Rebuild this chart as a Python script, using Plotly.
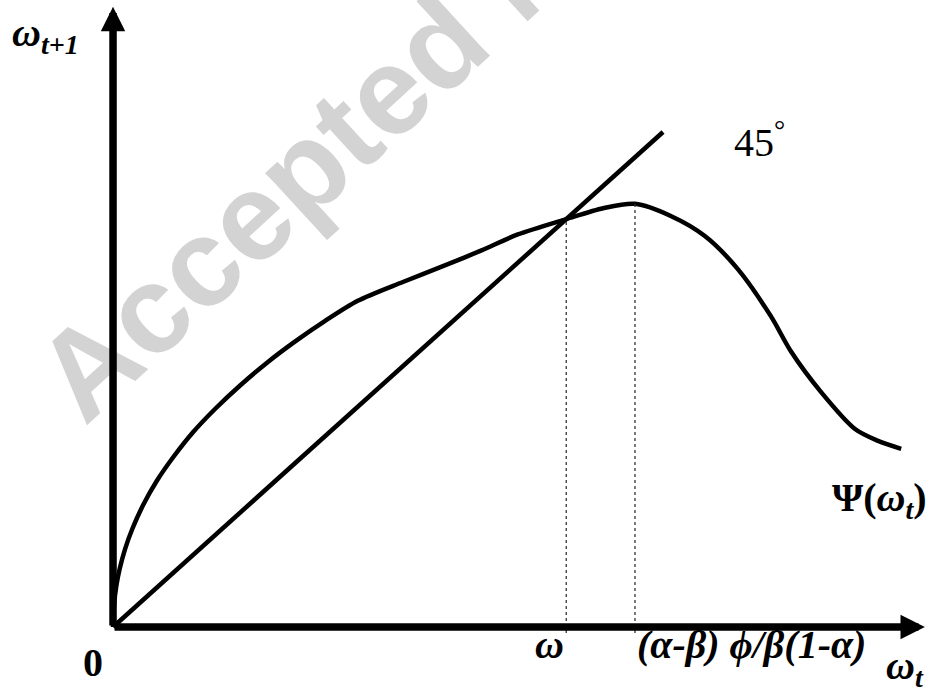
import plotly.graph_objects as go

# Psi(omega_t): next-period value against current value
psi_w = [0, 0.2, 0.6, 1.2, 2.2, 3.5, 5.5, 8, 11, 14.5, 18.5, 23, 28, 33, 38.5, 44.5,
         52.7, 60.9, 67.0, 73.6, 82.4, 89.1, 94.9, 101.5, 107.6, 113.6, 119.6, 123.3,
         128.7, 134.9, 139.1, 143.3]
psi_v = [0, 4.6, 8.3, 11.7, 15.8, 19.8, 24.7, 29.6, 34.4, 39.3, 44.0, 48.7, 53.4, 57.6,
         61.8, 65.9, 69.7, 73.3, 76.1, 79.3, 82.4, 84.6, 85.5, 83.0, 79.0, 72.3, 62.8,
         55.6, 47.5, 40.0, 37.6, 36.0]

# 45 degree line
diag_w = [0, 100]
diag_v = [0, 100]

# steady state and the peak of Psi
omega_star = 82.4
peak_w = 94.9
peak_v = 85.5

# axis extents
x_end = 147.6
y_end = 125.3

X_RANGE = [-20.55, 150.9]
Y_RANGE = [-12.32, 126.67]

fig = go.Figure()

fig.add_trace(go.Scatter(x=psi_w, y=psi_v, mode="lines",
                         line=dict(color="black", width=4.5, shape="spline", smoothing=0.8),
                         hoverinfo="skip"))
fig.add_trace(go.Scatter(x=diag_w, y=diag_v, mode="lines",
                         line=dict(color="black", width=4.5), hoverinfo="skip"))
# dotted guides down to the horizontal axis
fig.add_trace(go.Scatter(x=[omega_star, omega_star], y=[-1.2, omega_star], mode="lines",
                         line=dict(color="#333333", width=1.3, dash="dot"), hoverinfo="skip"))
fig.add_trace(go.Scatter(x=[peak_w, peak_w], y=[-1.2, peak_v], mode="lines",
                         line=dict(color="#333333", width=1.3, dash="dot"), hoverinfo="skip"))

serif = "Liberation Serif"
ann = []
# watermark
ann.append(dict(x=0.5491, y=1.0406, xref="paper", yref="paper",
                xanchor="center", yanchor="middle",
                text="<b>Accepted Manuscript</b>",
                showarrow=False, textangle=-42.5,
                font=dict(family="Liberation Sans", size=124, color="rgb(211,211,211)")))
# axes with arrowheads
ann.append(dict(x=0, y=y_end, ax=0, ay=0, xref="x", yref="y", axref="x", ayref="y",
                text="", showarrow=True, arrowhead=2, arrowsize=0.65, arrowwidth=7.5,
                arrowcolor="black"))
ann.append(dict(x=x_end, y=0, ax=0, ay=0, xref="x", yref="y", axref="x", ayref="y",
                text="", showarrow=True, arrowhead=2, arrowsize=0.65, arrowwidth=7.5,
                arrowcolor="black"))


def label(x, y, text, xanchor="center", yanchor="middle", bold=True, italic=True, size=40):
    t = text
    if italic:
        t = "<i>" + t + "</i>"
    if bold:
        t = "<b>" + t + "</b>"
    ann.append(dict(x=x, y=y, xref="x", yref="y", text=t, showarrow=False,
                    xanchor=xanchor, yanchor=yanchor,
                    font=dict(family=serif, size=size, color="black")))


label(-18.7, 119.6, "ω<sub>t+1</sub>", xanchor="left")
label(-3.6, -7.1, "0", italic=False)
label(omega_star, -3.6, "ω", xanchor="right")
label(peak_w, -3.6, "(α-β) ϕ/β(1-α)", xanchor="left")
label(144.0, -8.3, "ω<sub>t</sub>", xanchor="center")
label(112.5, 98.4, "45<sup>°</sup>", xanchor="left", bold=False, italic=False)
label(130.4, 25.7, "Ψ(<i>ω<sub>t</sub></i>)", xanchor="left", italic=False)

fig.update_layout(
    width=943, height=688,
    margin=dict(l=0, r=0, t=0, b=0),
    paper_bgcolor="white", plot_bgcolor="white",
    showlegend=False,
    xaxis=dict(range=X_RANGE, visible=False, fixedrange=True),
    yaxis=dict(range=Y_RANGE, visible=False, fixedrange=True),
    annotations=ann,
)

fig.write_html("out.html")
